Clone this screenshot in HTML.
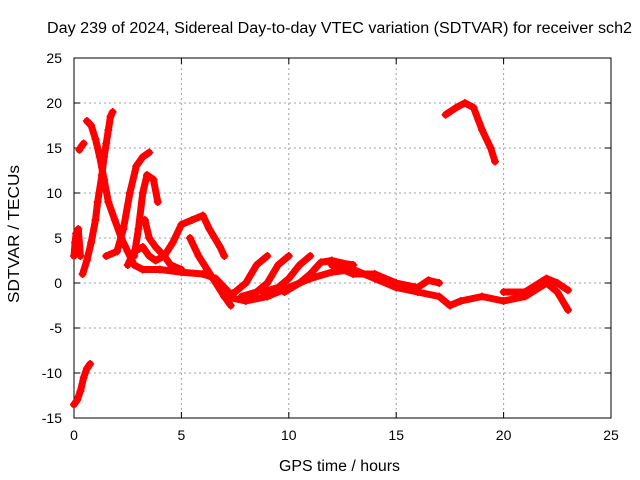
<!DOCTYPE html>
<html><head><meta charset="utf-8"><style>
body{margin:0;background:#fff;}
svg{display:block;font-family:"Liberation Sans",sans-serif;}
</style></head><body>
<svg id="chart" width="640" height="480">
<text x="47" y="33" font-size="15.5" textLength="585" lengthAdjust="spacingAndGlyphs">Day 239 of 2024, Sidereal Day-to-day VTEC variation (SDTVAR) for receiver sch2</text>
<text x="279" y="471" font-size="15.5" textLength="121" lengthAdjust="spacingAndGlyphs">GPS time / hours</text>
<text x="0" y="0" font-size="15.5" textLength="138" lengthAdjust="spacingAndGlyphs" transform="translate(19 303) rotate(-90)">SDTVAR / TECUs</text>
<g id="grid"></g><g id="axes"></g><g id="marks"></g>
</svg>
<script>
const xTicks=[0,5,10,15,20,25];
const yTicks=[-15,-10,-5,0,5,10,15,20,25];
const track1=[[0,-13.5],[0.15,-13],[0.3,-12],[0.45,-10.5],[0.6,-9.5],[0.75,-9]];
const track2=[[0,3],[0.05,4.5],[0.1,5.5],[0.2,6],[0.3,3]];
const track3=[[0.25,14.8],[0.35,15.2],[0.45,15.5]];
const track4=[[0.4,1],[0.6,2.5],[0.8,4.5],[1,7],[1.1,9],[1.3,12],[1.4,14],[1.5,15.5],[1.6,17],[1.7,18.5],[1.8,19]];
const track5=[[0.6,18],[0.8,17.5],[1,16],[1.2,14],[1.4,11.5],[1.6,9],[1.9,7],[2.2,5],[2.5,3.5],[2.8,2],[3.2,1.5],[4,1.5],[5,1.2],[6,1],[6.6,0.5],[7,-0.5],[7.4,-1.5]];
const track6=[[1.5,3],[2,3.5],[2.3,6],[2.6,10],[2.9,13],[3.2,14],[3.5,14.5]];
const track7=[[2.8,3],[3,6],[3.2,10],[3.4,12],[3.7,11.5],[3.9,9]];
const track8=[[3.3,7],[3.5,5],[3.8,4],[4.2,3],[4.5,2],[5,1.5]];
const track9=[[2.5,2],[2.8,3.5],[3.2,4],[3.5,3],[3.8,2.5],[4.2,3],[4.6,4.5],[5,6.5],[5.5,7],[6,7.5],[6.3,6],[6.8,4],[7,3]];
const track10=[[5.4,5],[5.8,3],[6.2,1.5],[6.6,0],[7,-1.5],[7.3,-2.5]];
const track11=[[7,-1.5],[7.5,-1],[8,0],[8.5,2],[9,3]];
const track12=[[7.8,-1.5],[8.5,-1],[9,0],[9.5,2],[10,3]];
const track13=[[8.8,-1],[9.5,-0.5],[10,0.5],[10.5,2],[11,3]];
const track14=[[9.8,-1],[10.5,0],[11,1],[11.5,2.3],[12,2.5],[12.5,2.2],[13,2]];
const track15=[[7,-1.5],[8,-2],[9,-1.5],[10,-0.5],[11,0.5],[12,1.2],[13,1.5],[14,0.5],[15,-0.5],[16,-1],[17,-1.5],[17.5,-2.5],[18,-2],[19,-1.5],[20,-2],[21,-1.5],[22,0],[22.5,-1],[23,-3]];
const track16=[[12,2],[13,1],[14,1],[15,0],[16,-0.5],[16.5,0.3],[17,0]];
const track17=[[20,-1],[21,-1],[22,0.5],[22.5,0],[23,-0.8]];
const track18=[[17.3,18.7],[17.8,19.5],[18.2,20],[18.6,19.5],[19,17],[19.4,15],[19.6,13.5]];
const tracks=[track1,track2,track3,track4,track5,track6,track7,track8,track9,track10,track11,track12,track13,track14,track15,track16,track17,track18];
const L=74,R=611,T=58,B=418;
const sx=v=>L+(v-0)/25*(R-L);
const sy=v=>B-(v+15)/40*(B-T);
const NS="http://www.w3.org/2000/svg";
function mk(p,tag,at){const e=document.createElementNS(NS,tag);for(const k in at)e.setAttribute(k,at[k]);p.appendChild(e);return e;}
const grid=document.getElementById('grid'),axes=document.getElementById('axes'),marks=document.getElementById('marks');
xTicks.forEach(t=>{
  if(t>0&&t<25){const g=mk(grid,'line',{x1:sx(t),x2:sx(t),y1:T,y2:B,stroke:'#a0a0a0','stroke-dasharray':'2,3'});
  
  }
  const tk=mk(axes,'path',{d:`M${sx(t)},${B}v-6M${sx(t)},${T}v6`,stroke:'#000'});
  
  
  const tx=mk(axes,'text',{x:sx(t),y:B+22,'font-size':14,'text-anchor':'middle'});tx.textContent=t;
  
  
});
yTicks.forEach(t=>{
  if(t>-15&&t<25){const g=mk(grid,'line',{x1:L,x2:R,y1:sy(t),y2:sy(t),stroke:'#a0a0a0','stroke-dasharray':'2,3'});
  
  }
  const tk=mk(axes,'path',{d:`M${L},${sy(t)}h6M${R},${sy(t)}h-6`,stroke:'#000'});
  
  
  const tx=mk(axes,'text',{x:L-12,y:sy(t)+5,'font-size':14,'text-anchor':'end'});tx.textContent=t;
  
  
});
const fr=mk(axes,'rect',{x:L,y:T,width:R-L,height:B-T,fill:'none',stroke:'#000'});


tracks.forEach((tr)=>{
  const pl=mk(marks,'polyline',{points:tr.map(p=>sx(p[0])+','+sy(p[1])).join(' '),fill:'none',stroke:'#ff0000','stroke-width':7,'stroke-linejoin':'round','stroke-linecap':'round'});
  
  
  tr.forEach(p=>{
    const m=mk(marks,'path',{d:`M${sx(p[0])-4},${sy(p[1])}h8M${sx(p[0])},${sy(p[1])-4}v8`,stroke:'#ff0000','stroke-width':1.5});
    
    
  });
});
</script>
</body></html>
